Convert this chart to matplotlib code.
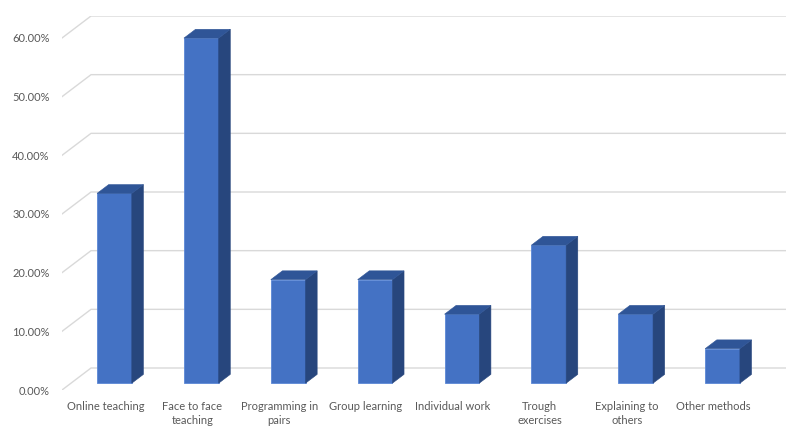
import matplotlib.pyplot as plt
from matplotlib.patches import Polygon

plt.rcParams['font.family'] = ['Lato', 'DejaVu Sans']

categories = ["Online teaching", "Face to face\nteaching", "Programming in\npairs",
              "Group learning", "Individual work", "Trough\nexercises",
              "Explaining to\nothers", "Other methods"]
values = [0.3235, 0.5882, 0.1765, 0.1765, 0.1176, 0.2353, 0.1176, 0.0588]
yticks = [0.0, 0.1, 0.2, 0.3, 0.4, 0.5, 0.6]

# fake 3d: depth offset of the back wall in data units
DX = 0.334
DY = 0.0375
bar_w = 0.4
f0, f1 = 0.31, 0.71

front = '#4472C4'
side = '#27467D'
top = '#2F5597'
grid = '#D9D9D9'

fig = plt.figure(figsize=(7.88, 4.36), dpi=100)
ax = fig.add_axes([62 / 788, (436 - 390) / 436, (786 - 62) / 788, (390 - 16) / 436])
ax.set_xlim(-0.5, 7.5 + DX)
ax.set_ylim(0, 0.6 + DY)

# walls / gridlines
for v in yticks:
    ax.plot([-0.5, -0.5 + DX, 7.5 + DX], [v, v + DY, v + DY], color=grid, lw=1, zorder=1)

for i, v in enumerate(values):
    xl = i - bar_w / 2 + f0 * DX
    xr = xl + bar_w
    ddx = (f1 - f0) * DX
    y0 = f0 * DY
    y1 = f1 * DY
    ax.add_patch(Polygon([(xl, y0), (xr, y0), (xr, v + y0), (xl, v + y0)],
                         closed=True, fc=front, ec='#5B87D6', lw=0.6, zorder=3))
    ax.add_patch(Polygon([(xr, y0), (xr + ddx, y1), (xr + ddx, v + y1), (xr, v + y0)],
                         closed=True, fc=side, ec=side, lw=0.4, zorder=3))
    ax.add_patch(Polygon([(xl, v + y0), (xr, v + y0), (xr + ddx, v + y1), (xl + ddx, v + y1)],
                         closed=True, fc=top, ec=top, lw=0.4, zorder=3))

ax.set_yticks(yticks)
ax.set_yticklabels(['{:.2%}'.format(t) for t in yticks])
ax.set_xticks(range(len(categories)))
ax.set_xticklabels(categories, linespacing=1.35)
ax.tick_params(length=0, colors='#595959', labelsize=8)
ax.tick_params(axis='y', pad=9)
ax.tick_params(axis='x', pad=8)
for s in ax.spines.values():
    s.set_visible(False)

fig.savefig('out.png', dpi=100)
